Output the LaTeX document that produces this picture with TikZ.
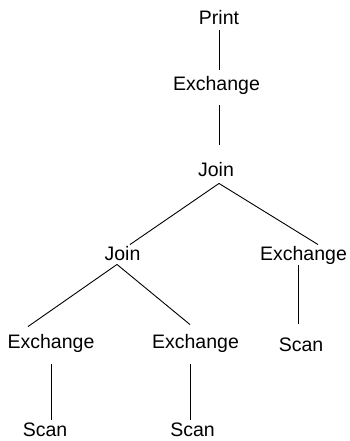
\documentclass[tikz,border=0pt]{standalone}
\usepackage{fontspec}
\setmainfont{Liberation Sans}
\begin{document}
\begin{tikzpicture}[x=1pt,y=-1pt,line width=0.9pt,
    op/.style={anchor=base,inner sep=0pt,text height=13.6pt,text depth=4pt,font=\fontsize{19.5}{22}\selectfont}]
  \useasboundingbox (0,0) rectangle (349,441);
  \node[op] (p) at (219,25) {Print};
  \node[op] (e1) at (216.5,91) {Exchange};
  \node[op] (j1) at (216,176) {Join};
  \node[op] (j2) at (122.5,260) {Join};
  \node[op] (e4) at (303.5,260) {Exchange};
  \node[op] (e2) at (51,348) {Exchange};
  \node[op] (e3) at (195.5,348) {Exchange};
  \node[op] (s3) at (301,351) {Scan};
  \node[op] (s1) at (45,436) {Scan};
  \node[op] (s2) at (192.5,436) {Scan};
  \draw ([yshift=-1pt]p.south) -- ([xshift=2.5pt,yshift=7pt]e1.north);
  \draw ([xshift=2.5pt,yshift=-10pt]e1.south) -- ([xshift=3pt,yshift=17pt]j1.north);
  \draw ([xshift=3pt,yshift=-3pt]j1.south) -- ([xshift=7.5pt,yshift=1.4pt]j2.north);
  \draw ([xshift=3pt,yshift=-3pt]j1.south) -- ([xshift=14.5pt,yshift=1.4pt]e4.north);
  \draw ([xshift=-5.5pt]j2.south) -- ([xshift=-23pt,yshift=7.4pt]e2.north);
  \draw ([xshift=-5.5pt]j2.south) -- ([xshift=-5.5pt,yshift=9.4pt]e3.north);
  \draw ([xshift=-5.5pt,yshift=-1pt]e4.south) -- ([xshift=-3pt,yshift=13.4pt]s3.north);
  \draw ([yshift=-12pt]e2.south) -- ([xshift=6pt,yshift=2pt]s1.north);
  \draw ([xshift=-5.5pt,yshift=-12pt]e3.south) -- ([xshift=-2.5pt,yshift=2pt]s2.north);
\end{tikzpicture}
\end{document}
